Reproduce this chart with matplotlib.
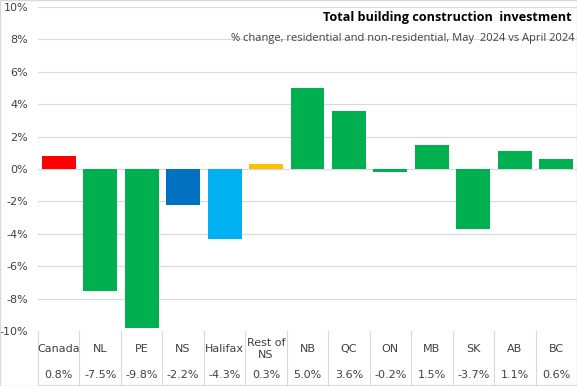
import matplotlib.pyplot as plt
import matplotlib.transforms as mtransforms

regions = ['Canada', 'NL', 'PE', 'NS', 'Halifax', 'Rest of\nNS', 'NB', 'QC', 'ON', 'MB', 'SK', 'AB', 'BC']
values = [0.8, -7.5, -9.8, -2.2, -4.3, 0.3, 5.0, 3.6, -0.2, 1.5, -3.7, 1.1, 0.6]
bar_colors = ['#FF0000', '#00B050', '#00B050', '#0070C0', '#00B0F0', '#FFC000',
              '#00B050', '#00B050', '#00B050', '#00B050', '#00B050', '#00B050', '#00B050']
yticks = [-10, -8, -6, -4, -2, 0, 2, 4, 6, 8, 10]

fig = plt.figure(figsize=(5.77, 3.86), dpi=100)
ax = fig.add_axes([38 / 577, 1 - 331 / 386, 1 - 38 / 577, 324 / 386])

x = list(range(len(regions)))
ax.bar(x, values, width=0.82, color=bar_colors, zorder=3)

ax.set_xlim(-0.5, len(regions) - 0.5)
ax.set_ylim(-10, 10)
ax.set_yticks(yticks)
ax.set_yticklabels([f'{t}%' for t in yticks], fontsize=8, color='#404040')
ax.tick_params(axis='y', length=0, pad=7)
ax.set_xticks([])
ax.grid(axis='y', color='#D9D9D9', linewidth=0.8, zorder=0)
for s in ax.spines.values():
    s.set_visible(False)
ax.axhline(0, color='#D9D9D9', linewidth=0.8, zorder=1)

# table under the plot
trans = mtransforms.blended_transform_factory(ax.transData, fig.transFigure)
y_top = 1 - 331 / 386
for i in range(len(regions) + 1):
    ax.plot([i - 0.5, i - 0.5], [y_top, 0], transform=trans, color='#D9D9D9',
            linewidth=0.8, clip_on=False)
ax.plot([-0.5, len(regions) - 0.5], [0.003, 0.003], transform=trans,
        color='#D9D9D9', linewidth=0.8, clip_on=False)
for i, (r, v) in enumerate(zip(regions, values)):
    ax.text(i, 1 - 349 / 386, r, transform=trans, ha='center', va='center',
            fontsize=8, color='#404040', linespacing=1.3)
    ax.text(i, 1 - 375 / 386, f'{v:.1f}%', transform=trans, ha='center',
            va='center', fontsize=8, color='#404040')

fig.text(572 / 577, 1 - 18 / 386, 'Total building construction  investment',
         ha='right', va='center', fontsize=9.1, fontweight='bold', color='black',
         family='Open Sans')
fig.text(575 / 577, 1 - 38 / 386,
         '% change, residential and non-residential, May  2024 vs April 2024',
         ha='right', va='center', fontsize=8, color='#404040', family='Open Sans')

# outer border
fig.patches.append(plt.Rectangle((0, 0), 1, 1, transform=fig.transFigure,
                                 fill=False, edgecolor='#D9D9D9', linewidth=1))

fig.savefig('out.png', dpi=100)
